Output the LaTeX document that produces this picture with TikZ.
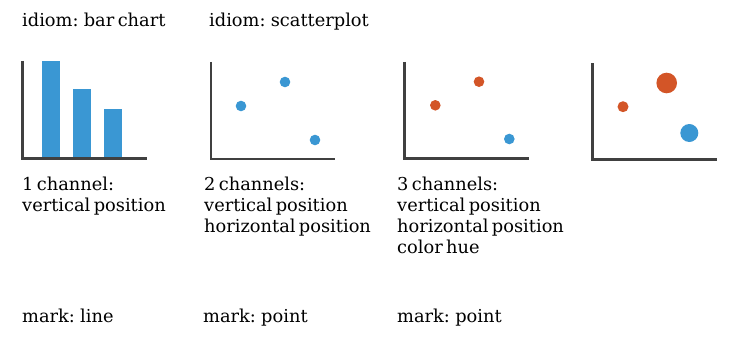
\documentclass[tikz,border=0pt]{standalone}
\usepackage{fontspec}
\setmainfont[WordSpace=0.6]{DejaVu Serif}
\definecolor{axisgray}{HTML}{404040}
\definecolor{markblue}{HTML}{3A97D3}
\definecolor{markorange}{HTML}{D35527}
\tikzset{
  axis/.style={draw=axisgray, line width=2.5pt, line cap=butt},
  bar/.style={fill=markblue, draw=none},
  label/.style={anchor=base west, inner sep=0pt,
    font=\fontsize{17.8}{21}\selectfont, text=black},
  dotblue/.style={circle, fill=markblue, inner sep=0pt, minimum size=#1},
  dotorange/.style={circle, fill=markorange, inner sep=0pt, minimum size=#1},
}
\begin{document}
\begin{tikzpicture}[x=1pt, y=-1pt]
\useasboundingbox (0,0) rectangle (736,337);

% titles
\node[label] (t1) at (22,27) {idiom: bar chart};
\node[label] (t2) at (209,27) {idiom: scatterplot};

% bar chart
\fill[bar] (42,61) rectangle (60,158);
\fill[bar] (73,89) rectangle (91,158);
\fill[bar] (104,109) rectangle (122,158);
\draw[axis] (22.5,61) -- (22.5,158.5) -- (147,158.5);

% scatterplot, one hue
\draw[axis] (211,62) -- (211,158.8) -- (335,158.8);
\node[dotblue=10.6pt] (a1) at (241,106) {};
\node[dotblue=10.6pt] (a2) at (285,82) {};
\node[dotblue=10.6pt] (a3) at (315,140) {};

% scatterplot, two hues
\draw[axis] (404.7,62) -- (404.7,158.3) -- (528.7,158.3);
\node[dotorange=10.6pt] (b1) at (435.3,105.3) {};
\node[dotorange=10.6pt] (b2) at (479,81.7) {};
\node[dotblue=10.6pt] (b3) at (509.3,139) {};

% scatterplot, hue and size
\draw[axis] (592.3,63.3) -- (592.3,159.3) -- (716.7,159.3);
\node[dotorange=11pt] (c1) at (623,106.7) {};
\node[dotorange=20.6pt] (c2) at (666.7,83) {};
\node[dotblue=18pt] (c3) at (689.3,133) {};

% channel descriptions, one node per line
\node[label] (d1a) at (22,190) {1 channel:};
\node[label] (d1b) at (22,211) {vertical position};

\node[label] (d2a) at (204,190) {2 channels:};
\node[label] (d2b) at (204,211) {vertical position};
\node[label] (d2c) at (204,232) {horizontal position};

\node[label] (d3a) at (397,190) {3 channels:};
\node[label] (d3b) at (397,211) {vertical position};
\node[label] (d3c) at (397,232) {horizontal position};
\node[label] (d3d) at (397,253) {color hue};

% marks
\node[label] (m1) at (22,322) {mark: line};
\node[label] (m2) at (203,322) {mark: point};
\node[label] (m3) at (397,322) {mark: point};
\end{tikzpicture}
\end{document}
